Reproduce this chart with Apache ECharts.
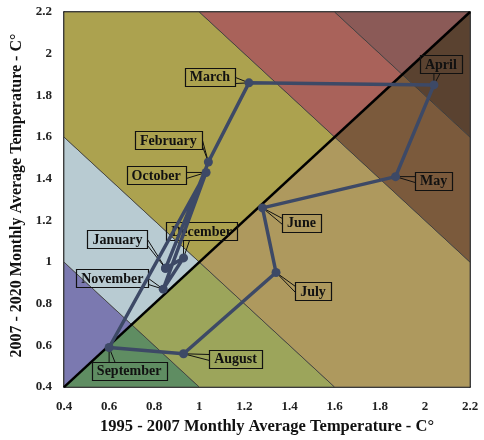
<!DOCTYPE html>
<html>
<head>
<meta charset="utf-8">
<script src="https://cdn.jsdelivr.net/npm/echarts@6/dist/echarts.min.js"></script>
<style>
  html, body { margin: 0; padding: 0; background: #ffffff; }
  #chart { width: 484px; height: 440px; }
</style>
</head>
<body>
<div id="chart"></div>
<script>
// Monthly average temperature anomaly, two periods
const months = ['January', 'February', 'March', 'April', 'May', 'June',
                'July', 'August', 'September', 'October', 'November', 'December'];
const period1995_2007 = [0.85, 1.04, 1.22, 2.04, 1.87, 1.28, 1.34, 0.93, 0.60, 1.03, 0.84, 0.93];
const period2007_2020 = [0.97, 1.48, 1.86, 1.85, 1.41, 1.26, 0.95, 0.56, 0.59, 1.43, 0.87, 1.02];

// Axis range and tick step
const axisMin = 0.4;
const axisMax = 2.2;
const axisStep = 0.2;

// Background bands bounded by x + y = const, split by the diagonal y = x
const bandLimits = [-Infinity, 1.4, 2.0, 3.2, 3.8, Infinity];
const upperColors = ['#7b79b0', '#b8cbd2', '#aca24f', '#a9625a', '#8b5a57'];
const lowerColors = ['#5f8d62', '#9ca55b', '#ae995e', '#7b5a3c', '#5a4230'];

// Callout box offsets (px) from each point to the box centre
const labelOffsets = [
  [-48, -29], [-40, -22], [-39, -6], [7, -21], [38, 4], [39, 15],
  [37, 19], [52, 5], [20, 23], [-50, 3], [-51, -11], [18, -27]
];

function clipHalfPlane(poly, a, b, c) {
  // keep points where a*x + b*y <= c
  const out = [];
  for (let i = 0; i < poly.length; i++) {
    const p = poly[i], q = poly[(i + 1) % poly.length];
    const fp = a * p[0] + b * p[1] - c;
    const fq = a * q[0] + b * q[1] - c;
    if (fp <= 0) out.push(p);
    if ((fp < 0 && fq > 0) || (fp > 0 && fq < 0)) {
      const t = fp / (fp - fq);
      out.push([p[0] + t * (q[0] - p[0]), p[1] + t * (q[1] - p[1])]);
    }
  }
  return out;
}

function bandPolygon(side, k) {
  let poly = side === 0
    ? [[axisMin, axisMin], [axisMin, axisMax], [axisMax, axisMax]]
    : [[axisMin, axisMin], [axisMax, axisMin], [axisMax, axisMax]];
  const lo = bandLimits[k], hi = bandLimits[k + 1];
  if (isFinite(lo)) poly = clipHalfPlane(poly, -1, -1, -lo);
  if (isFinite(hi)) poly = clipHalfPlane(poly, 1, 1, hi);
  return poly;
}

const bandData = [];
for (let s = 0; s < 2; s++) {
  for (let k = 0; k < bandLimits.length - 1; k++) bandData.push([s, k]);
}

const pointData = months.map((m, i) => [period1995_2007[i], period2007_2020[i], i]);
const pathData = pointData.concat([pointData[0]]);

const serif = 'Liberation Serif';
const labelFont = 'bold 14px "Liberation Serif"';
const measureCtx = document.createElement('canvas').getContext('2d');
measureCtx.font = labelFont;

const chart = echarts.init(document.getElementById('chart'));

const frameAxis = {
  type: 'value', min: axisMin, max: axisMax, interval: axisStep,
  axisLine: { show: true, lineStyle: { color: '#000', width: 1.5 } },
  axisTick: { show: false }, axisLabel: { show: false }, splitLine: { show: false }
};

// Callout: outlined box with a wedge-shaped pointer to the point
function renderCallout(params, api) {
  const i = api.value(2);
  const pt = api.coord([api.value(0), api.value(1)]);
  const off = labelOffsets[i];
  const cx = pt[0] + off[0], cy = pt[1] + off[1];
  const text = months[i];
  const w = Math.round(measureCtx.measureText(text).width) + 10;
  const h = 18;
  const x0 = Math.round(cx - w / 2) + 0.5, y0 = Math.round(cy - h / 2) + 0.5;
  const x1 = x0 + w, y1 = y0 + h;
  let a1, a2;
  if (pt[0] > x1 || pt[0] < x0) {
    const ex = pt[0] > x1 ? x1 : x0;
    const ey = Math.min(Math.max(pt[1], y0 + 4), y1 - 4);
    const ay = Math.min(Math.max(ey, y0 + 3), y1 - 9);
    a1 = [ex, ay]; a2 = [ex, ay + 6];
  } else {
    const ey = pt[1] > y1 ? y1 : y0;
    const ax = Math.min(Math.max(pt[0], x0 + 3), x1 - 9);
    a1 = [ax, ey]; a2 = [ax + 6, ey];
  }
  return {
    type: 'group',
    children: [
      {
        type: 'rect',
        shape: { x: x0, y: y0, width: w, height: h },
        style: { fill: 'none', stroke: '#111', lineWidth: 1.2 }
      },
      {
        type: 'polyline',
        shape: { points: [a1, pt, a2] },
        style: { fill: 'none', stroke: '#111', lineWidth: 1 }
      },
      {
        type: 'text',
        style: {
          text: text, x: cx, y: cy + 1, align: 'center', verticalAlign: 'middle',
          font: labelFont, fill: '#111'
        }
      }
    ]
  };
}

chart.setOption({
  animation: false,
  grid: { left: 64, top: 12, right: 14, bottom: 50 },
  xAxis: [{
    type: 'value', min: axisMin, max: axisMax, interval: axisStep,
    name: '1995 - 2007 Monthly Average Temperature - C°',
    nameLocation: 'middle', nameGap: 30,
    nameTextStyle: { fontFamily: serif, fontWeight: 'bold', fontSize: 16.5, color: '#111' },
    axisLine: { show: true, onZero: false, lineStyle: { color: '#000', width: 1.5 } },
    axisTick: { show: false },
    axisLabel: { fontFamily: serif, fontWeight: 'bold', fontSize: 13, color: '#222', margin: 13 },
    splitLine: { show: false }
  }, Object.assign({ position: 'top' }, frameAxis)],
  yAxis: [{
    type: 'value', min: axisMin, max: axisMax, interval: axisStep,
    name: '2007 - 2020 Monthly Average Temperature - C°',
    nameLocation: 'middle', nameGap: 38,
    nameTextStyle: { fontFamily: serif, fontWeight: 'bold', fontSize: 16, color: '#111', padding: [0, 0, 0, 8] },
    axisLine: { show: true, onZero: false, lineStyle: { color: '#000', width: 1.5 } },
    axisTick: { show: false },
    axisLabel: { fontFamily: serif, fontWeight: 'bold', fontSize: 13, color: '#222', margin: 12 },
    splitLine: { show: false }
  }, Object.assign({ position: 'right' }, frameAxis)],
  series: [
    {
      type: 'custom',
      data: bandData,
      z: 1,
      silent: true,
      renderItem: function (params, api) {
        const s = api.value(0), k = api.value(1);
        const poly = bandPolygon(s, k);
        if (poly.length < 3) return null;
        return {
          type: 'polygon',
          shape: { points: poly.map(p => api.coord(p)) },
          style: {
            fill: (s === 0 ? upperColors : lowerColors)[k],
            stroke: '#3a3a3a', lineWidth: 0.8
          }
        };
      }
    },
    {
      type: 'line',
      data: [[axisMin, axisMin], [axisMax, axisMax]],
      symbol: 'none', z: 3, silent: true,
      lineStyle: { color: '#000', width: 2.5 }
    },
    {
      type: 'custom',
      data: pointData,
      z: 3.5,
      silent: true,
      renderItem: renderCallout
    },
    {
      type: 'line',
      data: pathData,
      z: 4,
      symbol: 'circle', symbolSize: 9,
      itemStyle: { color: '#3d4966' },
      lineStyle: { color: '#3d4966', width: 3.5 }
    }
  ]
});
</script>
</body>
</html>
